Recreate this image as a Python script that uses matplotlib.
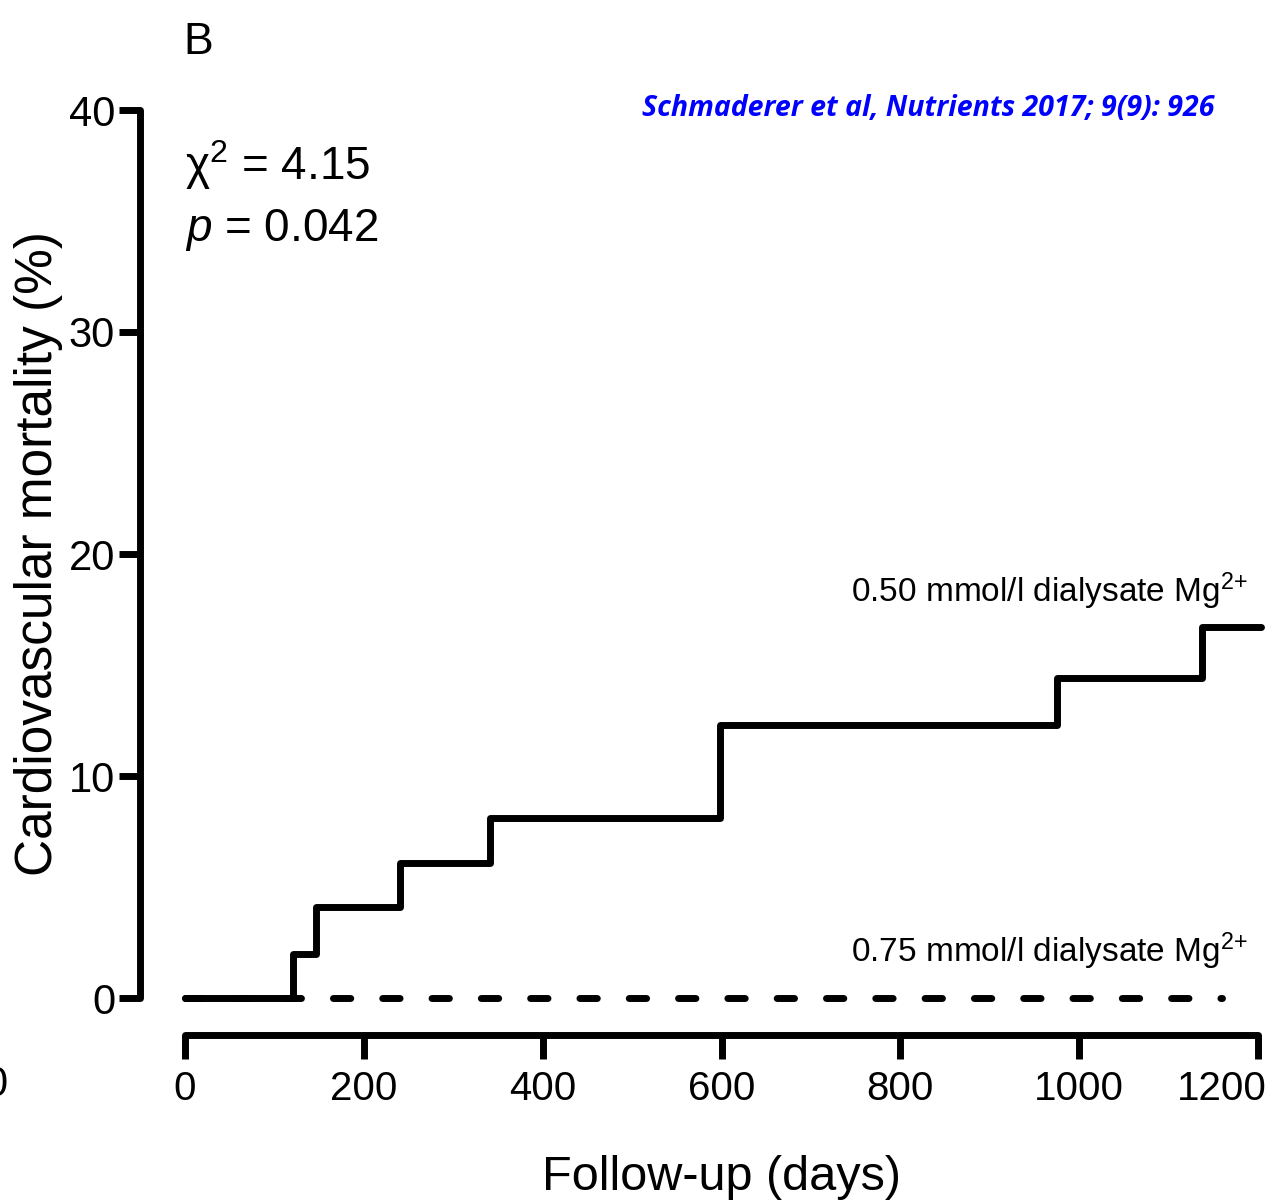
import matplotlib
matplotlib.use("Agg")
import matplotlib.pyplot as plt
from matplotlib.transforms import ScaledTranslation

# ---- data ----
days_050 = [0, 121, 146, 240, 341, 598, 975, 1137, 1203]
mort_050 = [0, 2.0, 4.1, 6.1, 8.1, 12.3, 14.4, 16.7, 16.7]
days_075 = [0, 1160]
mort_075 = [0, 0]
x_ticks = [0, 200, 400, 600, 800, 1000, 1200]
y_ticks = [0, 10, 20, 30, 40]
label_050 = "0.50 mmol/l dialysate Mg$^{2{+}}$"
label_075 = "0.75 mmol/l dialysate Mg$^{2{+}}$"
stats_chi = "\u03c7$^2$ = 4.15"
stats_p = "$p$ = 0.042"
citation = "Schmaderer et al, Nutrients 2017; 9(9): 926"
panel = "B"

plt.rcParams['font.family'] = ['Liberation Sans', 'DejaVu Sans']
plt.rcParams['mathtext.fontset'] = 'custom'
plt.rcParams['mathtext.rm'] = 'Liberation Sans'
plt.rcParams['mathtext.it'] = 'Liberation Sans:italic'

fig = plt.figure(figsize=(12.8, 12.03), dpi=100)
ax = fig.add_axes([185/1280, (1203-998)/1203, (1258-185)/1280, (998-110)/1203])

lw = 5.0
ax.step(days_050, mort_050, where='post', color='black', lw=lw,
        solid_joinstyle='round', solid_capstyle='round', clip_on=False, zorder=3)
ax.plot(days_075, mort_075, color='black', lw=lw, linestyle=(0, (2.5, 4.6)),
        dash_capstyle='round', clip_on=False, zorder=2)

ax.set_xlim(0, 1200)
ax.set_ylim(0, 40)
ax.set_xticks(x_ticks)
ax.set_yticks(y_ticks)

for s in ['top', 'right']:
    ax.spines[s].set_visible(False)
ax.spines['left'].set_position(('outward', 32.4))
ax.spines['bottom'].set_position(('outward', 26.6))
for s in ['left', 'bottom']:
    ax.spines[s].set_linewidth(lw)
    ax.spines[s].set_capstyle('round')
ax.tick_params(axis='y', length=15, width=lw, labelsize=30, pad=3)
ax.tick_params(axis='x', length=17, width=lw, labelsize=29, pad=8)
for t in ax.xaxis.get_major_ticks() + ax.yaxis.get_major_ticks():
    t.tick1line.set_solid_capstyle('round')
    t.tick1line.set_markeredgewidth(lw)

# keep the last x tick label inside the figure, as in the reference
last = ax.get_xticklabels()[-1]
last.set_transform(last.get_transform() + ScaledTranslation(-36/100, 0, fig.dpi_scale_trans))

ax.set_ylabel("Cardiovascular mortality (%)", fontsize=37, labelpad=4)
ax.set_xlabel("Follow-up (days)", fontsize=35, labelpad=34)

ax.text(0, 37.5, stats_chi, fontsize=33, ha='left', va='center')
ax.text(0, 34.6, stats_p, fontsize=33, ha='left', va='center')

ax.text(1189, 18.3, label_050, fontsize=24, ha='right', va='center')
ax.text(1189, 2.1, label_075, fontsize=24, ha='right', va='center')

fig.text(183/1280, 1 - 42/1203, panel, fontsize=32, ha='left', va='center')
fig.text(1215/1280, 1 - 108/1203, citation, fontsize=20.5, color='#0000ff',
         fontweight='bold', fontstyle='italic', family=['Open Sans', 'DejaVu Sans'],
         ha='right', va='center')
# cut-off label from the neighbouring panel at the left edge
fig.text(-16/1280, 1 - 1085/1203, "0", fontsize=30, ha='left', va='center')

fig.savefig("out.png", dpi=100)
